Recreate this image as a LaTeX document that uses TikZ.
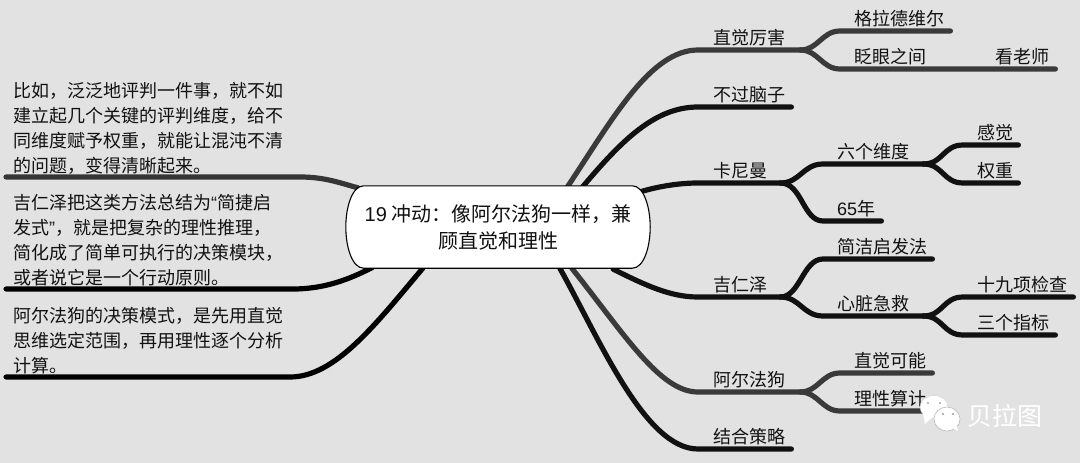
\documentclass[tikz,border=0pt]{standalone}
\usepackage{fontspec}
\usetikzlibrary{backgrounds}
\setmainfont{Noto Sans CJK SC}
\newfontfamily\latn{Liberation Sans}
\definecolor{bgc}{HTML}{E2E2E2}
\definecolor{inkc}{HTML}{111111}
\definecolor{darkl}{HTML}{111111}
\definecolor{greyl}{HTML}{3A3A3A}
\tikzset{
  x=1pt,y=-1pt,
  basetxt/.style={inner sep=0pt,text=inkc,font=\fontsize{18}{25}\selectfont},
  topic/.style={basetxt,anchor=south west,text width=#1,align=left,text height=14pt,text depth=5.2pt},
  in15/.style={execute at begin node={\hspace*{15pt}}},
  in14/.style={execute at begin node={\hspace*{14pt}}},
  note/.style={basetxt,anchor=south west,text width=275pt,align=left},
  link/.style={line width=5.2pt,line cap=round,line join=round,darkl},
  linkg/.style={link,greyl},
  rootbox/.style={basetxt,minimum width=304pt,minimum height=82pt,align=center,font=\fontsize{20}{27}\selectfont},
}
\begin{document}
\begin{tikzpicture}
\useasboundingbox (0,0) rectangle (1080,463);
% root
\node[rootbox] (root) at (498,227) {{\latn 19} 冲动：像阿尔法狗一样，兼\\顾直觉和理性};
% right, level 1
\node[topic=102,in15] (zj) at (698,50) {直觉厉害};
\node[topic=93,in15] (bg) at (698,107) {不过脑子};
\node[topic=82,in15] (kn) at (698,183) {卡尼曼};
\node[topic=82,in15] (jr) at (698,297) {吉仁泽};
\node[topic=102,in15] (ae) at (698,392) {阿尔法狗};
\node[topic=93,in15] (jh) at (698,449) {结合策略};
% right, level 2
\node[topic=110,in14] (gl) at (840,31) {格拉德维尔};
\node[topic=135,in14] (zy) at (840,69) {眨眼之间};
\node[topic=80] (ls) at (975,69) {\hspace*{20pt}看老师};
\node[topic=100,in14] (lg) at (823,164) {六个维度};
\node[topic=58,in14] (ln) at (823,221) {{\latn 65}年};
\node[topic=55,in14] (gj) at (963,145) {感觉};
\node[topic=55,in14] (qz) at (963,183) {权重};
\node[topic=109,in14] (jj) at (823,259) {简洁启发法};
\node[topic=100,in14] (xz) at (823,316) {心脏急救};
\node[topic=110,in14] (sj) at (963,297) {十九项检查};
\node[topic=92,in14] (sg) at (963,335) {三个指标};
\node[topic=92,in14] (zk) at (840,373) {直觉可能};
\node[topic=90,in14] (lx) at (840,411) {理性算计};
% left notes
\node[note] (n1) at (13,174.5) {比如，泛泛地评判一件事，就不如\\建立起几个关键的评判维度，给不\\同维度赋予权重，就能让混沌不清\\的问题，变得清晰起来。};
\node[note] (n2) at (13,286.5) {吉仁泽把这类方法总结为{\latn “}简捷启\\发式{\latn ”}，就是把复杂的理性推理，\\简化成了简单可执行的决策模块，\\或者说它是一个行动原则。};
\node[note] (n3) at (13,374.5) {阿尔法狗的决策模式，是先用直觉\\思维选定范围，再用理性逐个分析\\计算。};
\coordinate (n1l) at (6,177); \coordinate (n1r) at (300,177);
\coordinate (n2l) at (6,289); \coordinate (n2r) at (293,289);
\coordinate (n3l) at (6,377); \coordinate (n3r) at (290,377);
\begin{scope}[on background layer]
  \fill[bgc] (0,0) rectangle (1080,463);
  % root to right level 1
  \draw[linkg] ([xshift=221pt,yshift=-2pt]root.north west) .. controls (612,120) and (650,50) .. (zj.south west) -- (zj.south east);
  \draw[link] ([xshift=236pt,yshift=-2pt]root.north west) .. controls (622,140) and (655,107) .. (bg.south west) -- (bg.south east);
  \draw[link] ([xshift=-10pt,yshift=-6pt]root.north east) .. controls (660,186) and (680,183) .. (kn.south west) -- (kn.south east);
  \draw[link] ([xshift=-37pt,yshift=-1pt]root.south east) .. controls (645,285) and (670,297) .. (jr.south west) -- (jr.south east);
  \draw[linkg] ([xshift=226pt]root.south west) .. controls (625,335) and (660,392) .. (ae.south west) -- (ae.south east);
  \draw[link] ([xshift=214pt]root.south west) .. controls (600,340) and (645,449) .. (jh.south west) -- (jh.south east);
  % level 2
  \draw[linkg] (zj.south east) .. controls (818,50) and (822,31) .. (gl.south west) -- (gl.south east);
  \draw[linkg] (zj.south east) .. controls (818,50) and (822,69) .. (zy.south west) -- (zy.south east) -- (ls.south east);
  \draw[link] (kn.south east) .. controls (800,183) and (803,164) .. (lg.south west) -- (lg.south east);
  \draw[link] (kn.south east) .. controls (802,183) and (803,221) .. (ln.south west) -- (ln.south east);
  \draw[link] (lg.south east) .. controls (943,164) and (943,145) .. (gj.south west) -- (gj.south east);
  \draw[link] (lg.south east) .. controls (943,164) and (943,183) .. (qz.south west) -- (qz.south east);
  \draw[link] (jr.south east) .. controls (800,297) and (803,259) .. (jj.south west) -- (jj.south east);
  \draw[link] (jr.south east) .. controls (800,297) and (803,316) .. (xz.south west) -- (xz.south east);
  \draw[link] (xz.south east) .. controls (943,316) and (943,297) .. (sj.south west) -- (sj.south east);
  \draw[link] (xz.south east) .. controls (943,316) and (943,335) .. (sg.south west) -- (sg.south east);
  \draw[linkg] (ae.south east) .. controls (818,392) and (822,373) .. (zk.south west) -- (zk.south east);
  \draw[linkg] (ae.south east) .. controls (818,392) and (822,411) .. (lx.south west) -- (lx.south east);
  % left
  \draw[link,darkl!85!white] (n1l) -- (n1r) .. controls (325,177) and (340,183) .. ([xshift=12pt,yshift=-2pt]root.north west);
  \draw[link,black] (n2l) -- (n2r) .. controls (325,289) and (350,279) .. ([xshift=27pt,yshift=1pt]root.south west);
  \draw[link,black] (n3l) -- (n3r) .. controls (335,377) and (375,325) .. ([xshift=77pt]root.south west);
  % root outline
  \draw[fill=white,draw=black,line width=1.1pt]
    ([xshift=18pt]root.north west) -- ([xshift=-18pt]root.north east)
    .. controls ([xshift=-6pt]root.north east) and ([yshift=-22pt]root.north east) .. (root.east)
    .. controls ([yshift=22pt]root.south east) and ([xshift=-6pt]root.south east) .. ([xshift=-18pt]root.south east)
    -- ([xshift=18pt]root.south west)
    .. controls ([xshift=6pt]root.south west) and ([yshift=22pt]root.south west) .. (root.west)
    .. controls ([yshift=-22pt]root.north west) and ([xshift=6pt]root.north west) .. cycle;
\end{scope}
% watermark
\fill[white,draw=gray!35,line width=.4pt] (934,407) ellipse (14 and 11.5);
\fill[white] (923,414) -- (925,424) -- (934,416) -- cycle;
\fill[gray!70] (928,403) circle (1.2) (940,403) circle (1.2);
\fill[white,draw=gray!55,line width=.6pt] (947,419) ellipse (13 and 12);
\fill[white] (952,428) -- (958,431) -- (956,424) -- cycle;
\fill[gray!80] (943,414) circle (1.2) (953,414) circle (1.2);
\node[inner sep=0pt,text=white,font=\fontsize{25}{25}\selectfont] (wm) at (1005,416) {贝拉图};
\end{tikzpicture}
\end{document}
